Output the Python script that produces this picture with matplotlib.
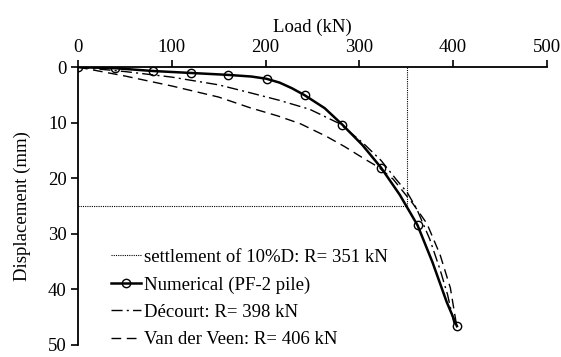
import matplotlib.pyplot as plt

plt.rcParams["font.family"] = ["Liberation Serif", "DejaVu Serif"]

# Numerical results (PF-2 pile): computed load steps
num_load = [0, 40, 80, 120, 160, 201, 242, 282, 323, 362, 404]
num_disp = [0, 0.2, 0.7, 1.05, 1.4, 2.1, 5.1, 10.4, 18.1, 28.5, 46.7]

# smoothed curve through the numerical results
curve_load = [0, 40, 80, 120, 160, 185, 201, 215, 228, 242, 263, 282, 303,
              323, 343, 362, 378, 393, 404]
curve_disp = [0, 0.2, 0.7, 1.05, 1.4, 1.7, 2.1, 2.8, 3.8, 5.1, 7.4, 10.4,
              14.0, 18.1, 23.0, 28.5, 35.2, 42.3, 46.7]

# Décourt extrapolation
dec_load = [0, 50, 100, 150, 183, 215, 247, 279, 304, 323, 340, 351, 361,
            375, 386, 394, 401]
dec_disp = [0, 0.8, 1.8, 3.2, 4.6, 6.0, 7.6, 10.2, 13.7, 16.8, 20.4, 22.6,
            25.5, 31.0, 36.5, 41.0, 46.3]

# Van der Veen extrapolation
vdv_load = [0, 50, 100, 150, 183, 213, 237, 265, 284, 304, 320, 336, 357,
            372, 386, 397, 403, 405]
vdv_disp = [0, 1.6, 3.4, 5.4, 7.3, 8.8, 10.2, 12.5, 14.3, 16.4, 18.0, 20.2,
            24.6, 28.2, 33.8, 39.8, 45.9, 47.0]

# settlement criterion (10% of diameter)
s_limit = 25
r_limit = 351

fig = plt.figure(figsize=(5.61, 3.57), dpi=100)
ax = fig.add_axes([0.139, 0.035, 0.836, 0.777])

ax.plot([0, r_limit, r_limit], [s_limit, s_limit, 0], color="black", lw=0.8,
        ls=(0, (1, 1)), label="settlement of 10%D: R= 351 kN")
ax.plot(curve_load, curve_disp, color="black", lw=1.8)
ax.plot(num_load, num_disp, ls="none", marker="o", ms=6,
        mfc="none", mec="black", mew=1.0)
ax.plot([], [], color="black", lw=1.8, marker="o", ms=6, mfc="none",
        mec="black", mew=1.0, label="Numerical (PF-2 pile)")
ax.plot(dec_load, dec_disp, color="black", lw=1.0, ls=(0, (8, 3, 1.5, 3)),
        label="Décourt: R= 398 kN")
ax.plot(vdv_load, vdv_disp, color="black", lw=1.0, ls=(0, (7, 4)),
        label="Van der Veen: R= 406 kN")

ax.set_xlim(0, 500)
ax.set_ylim(50, 0)
ax.xaxis.tick_top()
ax.xaxis.set_label_position("top")
ax.set_xticks(range(0, 501, 100))
ax.set_yticks(range(0, 51, 10))
ax.set_xlabel("Load (kN)", fontsize=13.5, labelpad=5)
ax.set_ylabel("Displacement (mm)", fontsize=13.5, labelpad=12)
ax.tick_params(labelsize=13.5, direction="out", length=5, width=1.2, pad=3)

for side in ["right", "bottom"]:
    ax.spines[side].set_visible(False)
for side in ["top", "left"]:
    ax.spines[side].set_linewidth(1.3)

ax.legend(loc="lower left", bbox_to_anchor=(0.035, -0.075), frameon=False,
          fontsize=13.5, handlelength=1.6, handletextpad=0.15, labelspacing=0.55)

fig.savefig("out.png", dpi=100)
